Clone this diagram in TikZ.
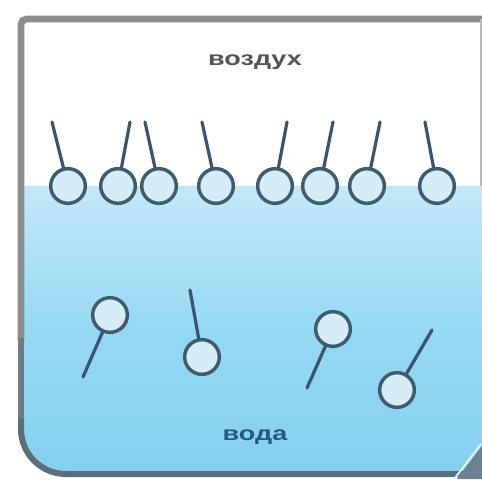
\documentclass[tikz,border=0pt]{standalone}
\usepackage{fontspec}
\setmainfont{Liberation Sans}
\definecolor{frameg}{RGB}{140,140,140}
\definecolor{framemid}{RGB}{112,122,130}
\definecolor{framedark}{RGB}{92,110,122}
\definecolor{waterTop}{RGB}{196,232,248}
\definecolor{waterMid}{RGB}{150,216,242}
\definecolor{waterBot}{RGB}{132,208,238}
\definecolor{headline}{RGB}{62,92,110}
\definecolor{headfill}{RGB}{214,236,246}
\definecolor{tailc}{RGB}{58,84,112}
\definecolor{airtext}{RGB}{85,85,85}
\definecolor{watertext}{RGB}{40,88,125}
\definecolor{curl}{RGB}{110,128,148}
\tikzset{
  head/.style={circle, draw=headline, line width=2.6pt, fill=headfill,
    minimum size=26pt, inner sep=0pt},
  tail/.style={draw=tailc, line width=2.4pt, line cap=round},
  label/.style={font=\bfseries\fontsize{15}{15}\selectfont, xscale=1.35}
}
\begin{document}
\begin{tikzpicture}[x=0.75pt,y=-0.75pt]
\useasboundingbox (0,0) rectangle (482,479);
\fill[white] (0,0) rectangle (482,479);
% water body with a gradient from the surface down
\shade[top color=waterTop, bottom color=waterBot, middle color=waterMid]
  (21,186) -- (482,186) -- (482,474) -- (66,474) arc[start angle=90, end angle=180, radius=45] -- cycle;
% vessel outline
\draw[frameg, line width=5pt, rounded corners=4pt] (482,19) -- (21,19) -- (21,340);
\draw[framemid, line width=4.7pt] (21,338) -- (21,420);
\draw[framedark, line width=4.5pt] (21,418) -- (21,429) arc[start angle=180, end angle=90, radius=45] -- (482,474);
\draw[frameg!60, line width=1pt] (481,19) -- (481,186);
% curled corner
\fill[curl] (457,479) -- (482,446) -- (482,479) -- cycle;
\draw[white!70!waterBot, line width=1.5pt] (455,478) -- (481,444);

% labels
\node[label, text=airtext] (air) at (255,62) {воздух};
\node[label, text=watertext] (water) at (255,437) {вода};

% molecules at the surface: tail first, head drawn over it
\foreach \i/\cx/\tx in {1/68/52, 2/118/130, 3/159/145, 4/216/202, 5/275/287, 6/320/333, 7/367/380, 8/437/425}{
  \coordinate (c\i) at (\cx,186);
  \coordinate (t\i) at (\tx,122);
  \draw[tail] (c\i) -- (t\i);
  \node[head] (h\i) at (c\i) {};
}

% molecules in the bulk of the water
\foreach \n/\cx/\cy/\tx/\ty in {a/110/315/83/377, b/202/357/190/290, c/333/329/307/388, d/397/390/432/330}{
  \coordinate (c\n) at (\cx,\cy);
  \coordinate (t\n) at (\tx,\ty);
  \draw[tail] (c\n) -- (t\n);
  \node[head] (h\n) at (c\n) {};
}
\end{tikzpicture}
\end{document}
